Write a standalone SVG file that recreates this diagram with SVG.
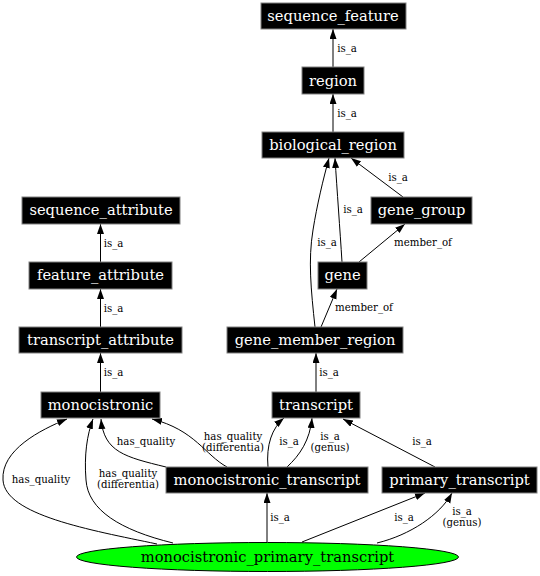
<svg xmlns="http://www.w3.org/2000/svg" width="540" height="576" viewBox="0 0 540 576">
<style>
.n rect{fill:#000;stroke:#808080;stroke-width:1}
.n text{fill:#fff;font-family:"DejaVu Serif",serif;font-size:14.7px;text-anchor:middle}
.e path{fill:none;stroke:#000;stroke-width:1;marker-end:url(#ah)}
.e text{fill:#000;font-family:"DejaVu Serif",serif;font-size:10.2px;text-anchor:middle}
</style>
<defs>
<marker id="ah" markerUnits="userSpaceOnUse" markerWidth="10" markerHeight="8" refX="10" refY="3.5" orient="auto">
<path d="M0,0 L10,3.5 L0,7 z" fill="#000"/>
</marker>
</defs>
<rect width="540" height="576" fill="#fff"/>
<g class="e" id="connectors">
<path d="M333,67 L333,29"/><text x="347" y="51.5">is_a</text>
<path d="M333,132 L333,94"/><text x="347" y="116.5">is_a</text>
<path d="M403,197 L351,158"/><text x="398" y="181">is_a</text>
<path d="M342,262 C340,230 337,190 335,158"/><text x="353" y="213">is_a</text>
<path d="M359,262 L405,224"/><text x="423" y="246">member_of</text>
<path d="M321,327 L337,289"/><text x="364" y="311">member_of</text>
<path d="M315,327 C311,290 308,260 313,230 C317,205 323,180 329,158"/><text x="327" y="246">is_a</text>
<path d="M316,392 L316,353"/><text x="329" y="375.5">is_a</text>
<path d="M100.5,262 L100.5,224"/><text x="113.5" y="246.5">is_a</text>
<path d="M100.5,327 L100.5,289"/><text x="113.5" y="311.5">is_a</text>
<path d="M100.5,392 L100.5,353"/><text x="113.5" y="376">is_a</text>
<path d="M166,467 C125,457 104,452 101,419"/><text x="146" y="445">has_quality</text>
<path d="M227,467 C205,455 195,430 152,419"/><text x="233" y="440">has_quality</text><text x="233" y="451">(differentia)</text>
<path d="M268,467 C266,445 272,428 284,418"/><text x="289" y="445">is_a</text>
<path d="M287,467 C300,455 310,440 312,418"/><text x="330" y="440">is_a</text><text x="330" y="451">(genus)</text>
<path d="M435,467 L343,419"/><text x="422" y="445">is_a</text>
<path d="M267,542 L267,493"/><text x="280" y="521">is_a</text>
<path d="M302,542 L425,493"/><text x="404" y="521">is_a</text>
<path d="M377,543 C410,535 440,515 452,493"/><text x="462" y="515">is_a</text><text x="462" y="526">(genus)</text>
<path d="M157,544 C90,530 5,515 3,480 C1,450 40,430 67,419"/><text x="41" y="483">has_quality</text>
<path d="M173,543 C120,530 88,510 86,480 C84,455 87,435 93,419"/><text x="128" y="477">has_quality</text><text x="128" y="488">(differentia)</text>
</g>
<g class="n" id="sequence_feature"><rect x="261" y="3" width="145" height="26"/><text x="333" y="21">sequence_feature</text></g>
<g class="n" id="region"><rect x="302" y="67" width="62" height="27"/><text x="333" y="85.5">region</text></g>
<g class="n" id="biological_region"><rect x="262" y="132" width="142" height="26"/><text x="333" y="150">biological_region</text></g>
<g class="n" id="gene_group"><rect x="371" y="197" width="101" height="27"/><text x="421.5" y="215">gene_group</text></g>
<g class="n" id="gene"><rect x="318" y="262" width="49" height="27"/><text x="342.5" y="280">gene</text></g>
<g class="n" id="gene_member_region"><rect x="227" y="327" width="176" height="26"/><text x="315" y="345">gene_member_region</text></g>
<g class="n" id="sequence_attribute"><rect x="22" y="197" width="158" height="27"/><text x="101" y="215">sequence_attribute</text></g>
<g class="n" id="feature_attribute"><rect x="29" y="262" width="143" height="27"/><text x="100.5" y="280">feature_attribute</text></g>
<g class="n" id="transcript_attribute"><rect x="19" y="327" width="163" height="26"/><text x="100.5" y="345">transcript_attribute</text></g>
<g class="n" id="monocistronic"><rect x="41" y="392" width="119" height="26"/><text x="100.5" y="410">monocistronic</text></g>
<g class="n" id="transcript"><rect x="272" y="392" width="88" height="26"/><text x="316" y="410">transcript</text></g>
<g class="n" id="monocistronic_transcript"><rect x="166" y="467" width="202" height="26"/><text x="267" y="485">monocistronic_transcript</text></g>
<g class="n" id="primary_transcript"><rect x="382" y="467" width="155" height="26"/><text x="459.5" y="485">primary_transcript</text></g>
<g id="monocistronic_primary_transcript"><ellipse cx="267.5" cy="557" rx="191" ry="14.5" fill="#00ff00" stroke="#000" stroke-width="1"/><text x="267.5" y="562" font-family="DejaVu Serif, serif" font-size="14.7px" text-anchor="middle" fill="#000">monocistronic_primary_transcript</text></g>
</svg>
